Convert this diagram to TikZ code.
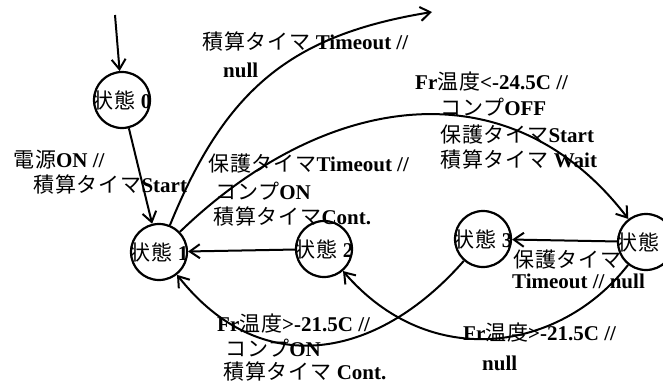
\documentclass[tikz,border=0pt]{standalone}
\usepackage{fontspec}
\setmainfont{Liberation Serif}
\newfontfamily\jp{Noto Sans CJK JP}[LetterSpace=4]
\newcommand{\J}[1]{{\jp\mdseries #1}}
\usetikzlibrary{arrows.meta}
\begin{document}
\begin{tikzpicture}[x=1pt,y=-1pt,
  state/.style={circle,draw,line width=2.2pt,minimum size=56pt,inner sep=0pt},
  stxt/.style={inner sep=0pt,font=\fontsize{21}{24}\selectfont\bfseries},
  lbl/.style={anchor=base west,inner sep=0pt,font=\fontsize{21}{24}\selectfont\bfseries},
  edge/.style={line width=2pt,-{Straight Barb[length=10pt,width=14pt]}}]
\useasboundingbox (0,0) rectangle (663,388);
\clip (0,0) rectangle (663,388);
% states
\node[state,path picture={\node[stxt] (t0) at (path picture bounding box.center) {\J{状態} 0};}] (s0) at (122,100) {};
\node[state,path picture={\node[stxt] (t1) at (path picture bounding box.center) {\J{状態} 1};}] (s1) at (159,252) {};
\node[state,path picture={\node[stxt] (t2) at (path picture bounding box.center) {\J{状態} 2};}] (s2) at (324,249) {};
\node[state,path picture={\node[stxt] (t3) at (path picture bounding box.center) {\J{状態} 3};}] (s3) at (483,239) {};
\node[state,path picture={\node[stxt] (t4) at (path picture bounding box.center) {\J{状態} 4};}] (s4) at (646,242) {};
% connectors
\coordinate (init) at (115,15);
\coordinate (top) at (432,12);
\draw[edge] (init) -- (s0);
\draw[edge] (s0) -- (s1);
\draw[edge] (s1) .. controls (225,90) and (290,35) .. (top);
\draw[edge] (s1) .. controls (327,90) and (511,66) .. (s4);
\draw[edge] (s2) -- (s1);
\draw[edge] (s4) -- (s3);
\draw[edge] (s3) .. controls (376,361) and (260,380) .. (s1);
\draw[edge] (s4) .. controls (560,352) and (430,372) .. (s2);
% labels
\node[lbl] (b1) at (13,167) {\J{電源}ON //};
\node[lbl] (b2) at (33,192) {\J{積算タイマ}Start};
\node[lbl] (c1) at (202,49) {\J{積算タイマ} Timeout //};
\node[lbl] (c2) at (223,77) {null};
\node[lbl] (d1) at (415,89) {Fr\J{温度}<-24.5C //};
\node[lbl] (d2) at (440,115) {\J{コンプ}OFF};
\node[lbl] (d3) at (440,142) {\J{保護タイマ}Start};
\node[lbl] (d4) at (440,167) {\J{積算タイマ} Wait};
\node[lbl] (e1) at (208,171) {\J{保護タイマ}Timeout //};
\node[lbl] (e2) at (215,199) {\J{コンプ}ON};
\node[lbl] (e3) at (213,224) {\J{積算タイマ}Cont.};
\node[lbl] (f1) at (513,267) {\J{保護タイマ}};
\node[lbl] (f2) at (512,288) {Timeout // null};
\node[lbl] (g1) at (217,331) {Fr\J{温度}>-21.5C //};
\node[lbl] (g2) at (225,356) {\J{コンプ}ON};
\node[lbl] (g3) at (223,379) {\J{積算タイマ} Cont.};
\node[lbl] (h1) at (463,340) {Fr\J{温度}>-21.5C //};
\node[lbl] (h2) at (482,370) {null};
\end{tikzpicture}
\end{document}
